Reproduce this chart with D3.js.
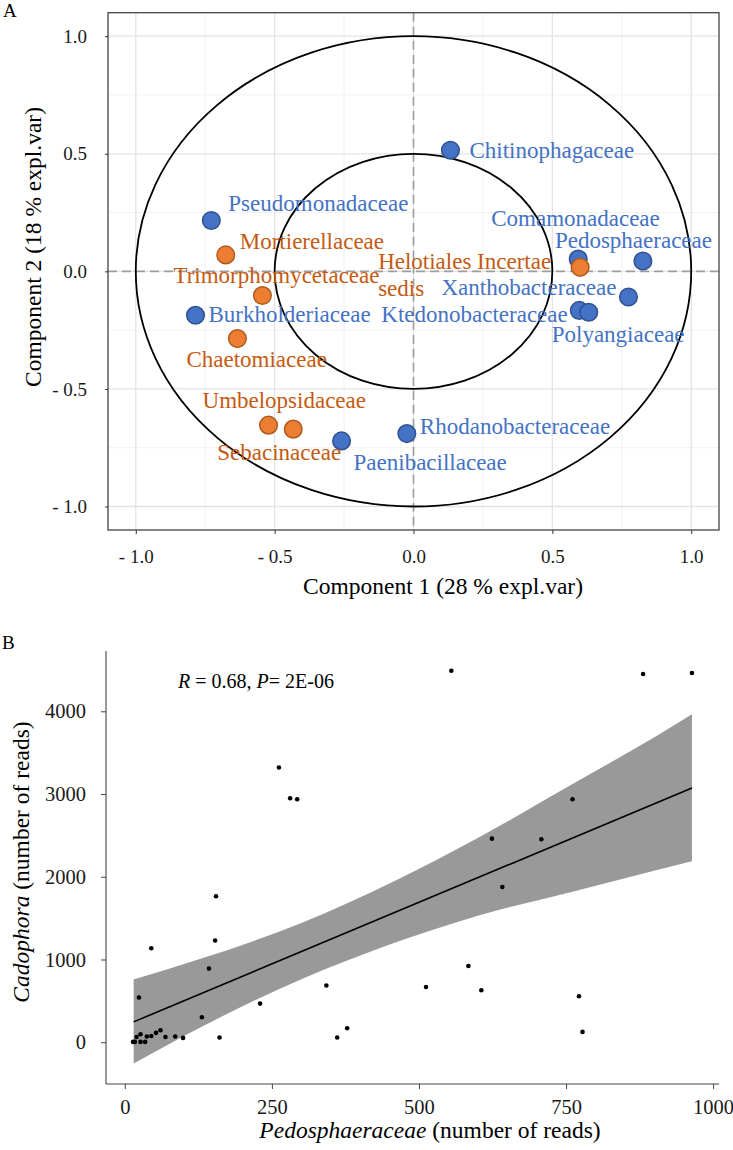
<!DOCTYPE html>
<html>
<head>
<meta charset="utf-8">
<script src="https://cdn.jsdelivr.net/npm/d3@7"></script>
<style>
  body { margin: 0; background: #fff; }
  svg { display: block; }
</style>
</head>
<body>
<svg></svg>
<script>
const serif = "Liberation Serif";

// ---- panel A data (correlation circle) ----
const families = [
  "Pseudomonadaceae", "Mortierellaceae", "Trimorphomycetaceae", "Burkholderiaceae",
  "Chaetomiaceae", "Umbelopsidaceae", "Sebacinaceae", "Paenibacillaceae",
  "Rhodanobacteraceae", "Chitinophagaceae", "Comamonadaceae", "Pedosphaeraceae",
  "Xanthobacteraceae", "Ktedonobacteraceae", "Polyangiaceae", "Helotiales Incertae sedis"
];
const comp1 = [-0.728, -0.676, -0.544, -0.785, -0.634, -0.522, -0.433, -0.259,
  -0.024, 0.133, 0.593, 0.826, 0.774, 0.597, 0.631, 0.600];
const comp2 = [0.216, 0.070, -0.103, -0.187, -0.286, -0.654, -0.671, -0.721,
  -0.690, 0.515, 0.052, 0.044, -0.109, -0.166, -0.174, 0.017];
const group = ["bac", "fun", "fun", "bac", "fun", "fun", "fun", "bac",
  "bac", "bac", "bac", "bac", "bac", "bac", "bac", "fun"];
const circleRadii = [0.5, 1];
const majorTicks = [-1, -0.5, 0, 0.5, 1];
const minorTicks = [-0.75, -0.25, 0.25, 0.75];

// ---- panel B data (scatter + lm fit) ----
const pedoReads = [262, 281, 293, 555, 881, 964, 761, 624, 708,
  155, 153.5, 45, 143, 342.6, 24, 230, 131, 378, 361, 161, 99, 85.6, 69, 60.6,
  53, 45, 37.4, 34.6, 26.7, 26.7, 20, 17, 14,
  641.7, 584, 512, 606, 772, 778];
const cadoReads = [3320, 2949, 2937, 4491, 4451, 4463, 2937, 2461, 2453,
  1764, 1229, 1136, 890, 685, 540, 467, 302, 169, 57, 57, 52, 69, 64, 145,
  113, 76, 69, 4, 97, 4, 64, 4, 4,
  1877, 922, 668, 628, 556, 125];
const fitX = [15, 964];
const fitY = [246, 3073];
const bandX = [15, 130, 300, 456, 600, 761, 903, 964];
const bandHigh = [757, 1011, 1440, 1940, 2470, 3120, 3700, 3964];
const bandLow = [-258, 185, 760, 1195, 1530, 1820, 2078, 2187];
const xTicksB = [0, 250, 500, 750, 1000];
const yTicksB = [0, 1000, 2000, 3000, 4000];

const W = 733, H = 1150;
const svg = d3.select("svg").attr("width", W).attr("height", H)
  .attr("font-family", serif);

const colors = {
  bac: { fill: "#4472C4", stroke: "#2F528F", text: "#4472C4" },
  fun: { fill: "#ED7D31", stroke: "#AE5A21", text: "#C55A11" }
};

// label placement, pixel offsets from the point (ggrepel-like)
const labelOffsets = {
  "Pseudomonadaceae": [17, -10],
  "Mortierellaceae": [14, -6],
  "Trimorphomycetaceae": [-89, -13],
  "Burkholderiaceae": [13, 7],
  "Chaetomiaceae": [-51, 28],
  "Umbelopsidaceae": [-66, -17],
  "Sebacinaceae": [-76, 31],
  "Paenibacillaceae": [12, 29],
  "Rhodanobacteraceae": [13, 0],
  "Chitinophagaceae": [19, 8],
  "Comamonadaceae": [-87, -33],
  "Pedosphaeraceae": [-88, -13],
  "Xanthobacteraceae": [-187, -2],
  "Ktedonobacteraceae": [-198, 12],
  "Polyangiaceae": [-37, 30],
  "Helotiales Incertae sedis": [-202, 2]
};

// ================= panel A =================
const a = { left: 108, right: 719, top: 12.7, bottom: 530 };
const xA = d3.scaleLinear().domain([-1.1, 1.1]).range([a.left, a.right]);
const yA = d3.scaleLinear().domain([-1.1, 1.1]).range([a.bottom, a.top]);

const pA = svg.append("g").attr("id", "panelA");

// grid
const grid = pA.append("g").attr("class", "grid");
grid.selectAll(".vmin").data(minorTicks).join("line")
  .attr("x1", d => xA(d)).attr("x2", d => xA(d))
  .attr("y1", a.top).attr("y2", a.bottom)
  .attr("stroke", "#ebebeb").attr("stroke-width", 0.7);
grid.selectAll(".hmin").data(minorTicks).join("line")
  .attr("y1", d => yA(d)).attr("y2", d => yA(d))
  .attr("x1", a.left).attr("x2", a.right)
  .attr("stroke", "#ebebeb").attr("stroke-width", 0.7);
grid.selectAll(".vmaj").data(majorTicks).join("line")
  .attr("x1", d => xA(d)).attr("x2", d => xA(d))
  .attr("y1", a.top).attr("y2", a.bottom)
  .attr("stroke", "#e3e3e3").attr("stroke-width", 1.3);
grid.selectAll(".hmaj").data(majorTicks).join("line")
  .attr("y1", d => yA(d)).attr("y2", d => yA(d))
  .attr("x1", a.left).attr("x2", a.right)
  .attr("stroke", "#e3e3e3").attr("stroke-width", 1.3);

// dashed zero lines
pA.append("line")
  .attr("x1", xA(0)).attr("x2", xA(0)).attr("y1", a.top).attr("y2", a.bottom)
  .attr("stroke", "#9e9e9e").attr("stroke-width", 1.6).attr("stroke-dasharray", "9,5");
pA.append("line")
  .attr("y1", yA(0)).attr("y2", yA(0)).attr("x1", a.left).attr("x2", a.right)
  .attr("stroke", "#9e9e9e").attr("stroke-width", 1.6).attr("stroke-dasharray", "9,5");

// correlation circles
pA.selectAll(".ring").data(circleRadii).join("ellipse")
  .attr("cx", xA(0)).attr("cy", yA(0))
  .attr("rx", d => xA(d) - xA(0))
  .attr("ry", d => yA(0) - yA(d))
  .attr("fill", "none").attr("stroke", "#000").attr("stroke-width", 1.8);

// border
pA.append("rect")
  .attr("x", a.left).attr("y", a.top)
  .attr("width", a.right - a.left).attr("height", a.bottom - a.top)
  .attr("fill", "none").attr("stroke", "#444").attr("stroke-width", 1.3);

// axes
const fmtA = v => (v < 0 ? "- " + Math.abs(v).toFixed(1) : v.toFixed(1));
const xAxisA = pA.append("g")
  .attr("transform", `translate(0,${a.bottom})`)
  .call(d3.axisBottom(xA).tickValues(majorTicks).tickFormat(fmtA).tickSize(4).tickPadding(16));
const yAxisA = pA.append("g")
  .attr("transform", `translate(${a.left},0)`)
  .call(d3.axisLeft(yA).tickValues(majorTicks).tickFormat(fmtA).tickSize(3).tickPadding(18));
[xAxisA, yAxisA].forEach(g => {
  g.attr("font-family", serif).attr("font-size", 19);
  g.select(".domain").remove();
  g.selectAll(".tick line").attr("stroke", "#333");
  g.selectAll(".tick text").attr("fill", "#1a1a1a");
});

pA.append("text")
  .attr("x", 443).attr("y", 594)
  .attr("text-anchor", "middle").attr("font-size", 23.5).attr("fill", "#000")
  .text("Component 1 (28 % expl.var)");
pA.append("text")
  .attr("transform", "translate(41,247) rotate(-90)")
  .attr("text-anchor", "middle").attr("font-size", 23.5).attr("fill", "#000")
  .text("Component 2 (18 % expl.var)");

// points (bacteria first, fungi on top)
const pts = families.map((name, i) => ({ name, c1: comp1[i], c2: comp2[i], g: group[i] }));
const order = pts.filter(d => d.g === "bac").concat(pts.filter(d => d.g === "fun"));
pA.append("g").selectAll("circle").data(order).join("circle")
  .attr("cx", d => xA(d.c1)).attr("cy", d => yA(d.c2)).attr("r", 8.8)
  .attr("fill", d => colors[d.g].fill)
  .attr("stroke", d => colors[d.g].stroke).attr("stroke-width", 1.5);

// labels
const labels = pA.append("g").selectAll("text").data(pts).join("text")
  .attr("x", d => xA(d.c1) + labelOffsets[d.name][0])
  .attr("y", d => yA(d.c2) + labelOffsets[d.name][1])
  .attr("font-size", 23)
  .attr("fill", d => colors[d.g].text);
labels.each(function (d) {
  const t = d3.select(this);
  if (d.name === "Helotiales Incertae sedis") {
    const x0 = t.attr("x");
    t.append("tspan").attr("x", x0).text("Helotiales Incertae");
    t.append("tspan").attr("x", x0).attr("dy", 27).text("sedis");
  } else {
    t.text(d.name);
  }
});

svg.append("text").attr("x", 3).attr("y", 17).attr("font-size", 19).text("A");

// ================= panel B =================
const b = { left: 106, right: 719, top: 651, bottom: 1084 };
const xB = d3.scaleLinear().domain([-32, 1010]).range([b.left, b.right]);
const yB = d3.scaleLinear().domain([-505, 4729]).range([b.bottom, b.top]);

const pB = svg.append("g").attr("id", "panelB");

const band = bandX.map((x, i) => ({ x, lo: bandLow[i], hi: bandHigh[i] }));
pB.append("path")
  .datum(band)
  .attr("d", d3.area().curve(d3.curveMonotoneX)
    .x(d => xB(d.x)).y0(d => yB(d.lo)).y1(d => yB(d.hi)))
  .attr("fill", "#999999");

pB.append("path")
  .datum(fitX.map((x, i) => [x, fitY[i]]))
  .attr("d", d3.line().x(d => xB(d[0])).y(d => yB(d[1])))
  .attr("fill", "none").attr("stroke", "#000").attr("stroke-width", 1.6);

pB.append("g").selectAll("circle").data(pedoReads.map((x, i) => [x, cadoReads[i]]))
  .join("circle")
  .attr("cx", d => xB(d[0])).attr("cy", d => yB(d[1])).attr("r", 2.3)
  .attr("fill", "#000");

const xAxisB = pB.append("g")
  .attr("transform", `translate(0,${b.bottom})`)
  .call(d3.axisBottom(xB).tickValues(xTicksB).tickFormat(d3.format("d")).tickSize(5).tickPadding(10));
const yAxisB = pB.append("g")
  .attr("transform", `translate(${b.left},0)`)
  .call(d3.axisLeft(yB).tickValues(yTicksB).tickFormat(d3.format("d")).tickSize(5).tickPadding(15));
xAxisB.select(".domain").attr("d", `M${b.left},0H${b.right}`);
yAxisB.select(".domain").attr("d", `M0,${b.top}V${b.bottom}`);
[xAxisB, yAxisB].forEach(g => {
  g.attr("font-family", serif).attr("font-size", 20.5);
  g.select(".domain").attr("stroke", "#444").attr("stroke-width", 1.1);
  g.selectAll(".tick line").attr("stroke", "#444");
  g.selectAll(".tick text").attr("fill", "#1a1a1a");
});

const xTitle = pB.append("text")
  .attr("x", 430).attr("y", 1138)
  .attr("text-anchor", "middle").attr("font-size", 23.5);
xTitle.append("tspan").attr("font-style", "italic").text("Pedosphaeraceae");
xTitle.append("tspan").text(" (number of reads)");

const yTitle = pB.append("text")
  .attr("transform", "translate(28.5,862) rotate(-90)")
  .attr("text-anchor", "middle").attr("font-size", 23.5);
yTitle.append("tspan").attr("font-style", "italic").text("Cadophora");
yTitle.append("tspan").text(" (number of reads)");

const note = pB.append("text").attr("x", 178).attr("y", 688).attr("font-size", 20);
note.append("tspan").attr("font-style", "italic").text("R");
note.append("tspan").text(" = 0.68, ");
note.append("tspan").attr("font-style", "italic").text("P");
note.append("tspan").text("= 2E-06");

svg.append("text").attr("x", 2).attr("y", 649).attr("font-size", 19).text("B");

// one family name only, set on every text
svg.selectAll("text, tspan").style("font-family", serif);
</script>
</body>
</html>
